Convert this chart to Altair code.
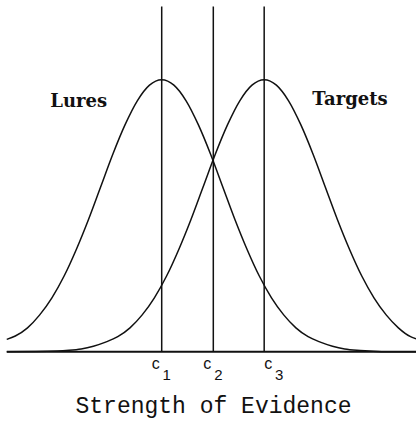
import altair as alt
import pandas as pd

# Evidence axis positions (in SD units of the lure distribution) and heights
lure_x = [-2.54, -2.4, -2.2, -2.0, -1.8, -1.6, -1.4, -1.2, -1.0, -0.8, -0.6, -0.4, -0.2,
          0.0, 0.2, 0.4, 0.6, 0.8, 1.0, 1.2, 1.4, 1.6, 1.8, 2.0, 2.2, 2.4, 2.6, 2.8,
          3.0, 3.2, 3.4, 3.6, 4.17]
lure_y = [0.018, 0.023, 0.035, 0.054, 0.079, 0.111, 0.150, 0.194, 0.242, 0.290, 0.333,
          0.368, 0.391, 0.399, 0.391, 0.368, 0.333, 0.290, 0.242, 0.194, 0.150, 0.111,
          0.079, 0.054, 0.035, 0.022, 0.014, 0.008, 0.004, 0.002, 0.001, 0.000, 0.000]

target_x = [-2.54, -1.72, -1.52, -1.32, -1.12, -0.92, -0.72, -0.52, -0.32, -0.12, 0.08,
            0.28, 0.48, 0.68, 0.88, 1.08, 1.28, 1.48, 1.68, 1.88, 2.08, 2.28, 2.48, 2.68,
            2.88, 3.08, 3.28, 3.48, 3.68, 3.88, 4.08, 4.17]
target_y = [0.000, 0.001, 0.002, 0.004, 0.008, 0.014, 0.022, 0.035, 0.054, 0.079, 0.111,
            0.150, 0.194, 0.242, 0.290, 0.333, 0.368, 0.391, 0.399, 0.391, 0.368, 0.333,
            0.290, 0.242, 0.194, 0.150, 0.111, 0.079, 0.054, 0.035, 0.022, 0.019]

# Decision criteria
criterion_x = [0.0, 0.846, 1.68]
criterion_sub = ["1", "2", "3"]

curves = pd.concat([
    pd.DataFrame({"strength": lure_x, "density": lure_y, "dist": "Lures"}),
    pd.DataFrame({"strength": target_x, "density": target_y, "dist": "Targets"}),
])
crit = pd.DataFrame({"strength": criterion_x, "sub": criterion_sub,
                     "idx": list(range(len(criterion_x)))})

X_DOMAIN = [-2.651, 4.169]
Y_DOMAIN = [-0.1046, 0.5159]
xs = alt.Scale(domain=X_DOMAIN, nice=False, zero=False)
ys = alt.Scale(domain=Y_DOMAIN, nice=False, zero=False)
INK = "#111111"

base_line = alt.Chart(pd.DataFrame({"a": [-2.54], "b": [X_DOMAIN[1]], "y": [0.0]})).mark_rule(
    color=INK, strokeWidth=2
).encode(
    x=alt.X("a:Q", scale=xs, axis=None),
    x2="b:Q",
    y=alt.Y("y:Q", scale=ys, axis=None),
)

crit_lines = alt.Chart(crit).mark_rule(color=INK, strokeWidth=1.5).encode(
    x=alt.X("strength:Q", scale=xs, axis=None),
    y=alt.Y("top:Q", scale=ys, axis=None),
    y2="bottom:Q",
).transform_calculate(top="0.5064", bottom="0")

curve_lines = alt.Chart(curves).mark_line(
    color=INK, strokeWidth=1.5, interpolate="monotone"
).encode(
    x=alt.X("strength:Q", scale=xs, axis=None),
    y=alt.Y("density:Q", scale=ys, axis=None),
    detail="dist:N",
)

layers = [base_line, crit_lines, curve_lines]

# Criterion labels: "c" with a lowered subscript digit
shifts = {0: 0, 1: 0, 2: 10}
for i, shift in shifts.items():
    sub = crit[crit["idx"] == i]
    c_txt = alt.Chart(sub).mark_text(
        font="Liberation Sans", fontSize=16, color=INK, align="center",
        baseline="alphabetic", dx=-6 + shift, dy=17.5
    ).encode(
        x=alt.X("strength:Q", scale=xs, axis=None),
        y=alt.Y("zero:Q", scale=ys, axis=None),
        text=alt.value("c"),
    ).transform_calculate(zero="0")
    s_txt = alt.Chart(sub).mark_text(
        font="Liberation Sans", fontSize=15, color=INK, align="center",
        baseline="alphabetic", dx=5 + shift, dy=28
    ).encode(
        x=alt.X("strength:Q", scale=xs, axis=None),
        y=alt.Y("zero:Q", scale=ys, axis=None),
        text="sub:N",
    ).transform_calculate(zero="0")
    layers += [c_txt, s_txt]

dist_labels = alt.Chart(pd.DataFrame({
    "strength": [-1.361, 3.087], "density": [0.359, 0.362], "label": ["Lures", "Targets"]
})).mark_text(
    font="DejaVu Serif", fontSize=18, fontWeight="bold", color=INK,
    align="center", baseline="alphabetic"
).encode(
    x=alt.X("strength:Q", scale=xs, axis=None),
    y=alt.Y("density:Q", scale=ys, axis=None),
    text="label:N",
)

axis_title = alt.Chart(pd.DataFrame({"strength": [0.849], "density": [-0.0899],
                                     "label": ["Strength of Evidence"]})).mark_text(
    font="Liberation Mono", fontSize=23, color=INK, align="center", baseline="alphabetic"
).encode(
    x=alt.X("strength:Q", scale=xs, axis=None),
    y=alt.Y("density:Q", scale=ys, axis=None),
    text="label:N",
)

layers += [dist_labels, axis_title]

chart = alt.layer(*layers).properties(
    width=416, height=423, padding=0, autosize=alt.AutoSizeParams(type="none"),
    background="white",
).configure_view(stroke=None)

chart.save("out.html", embed_options={"renderer": "svg", "actions": False})
